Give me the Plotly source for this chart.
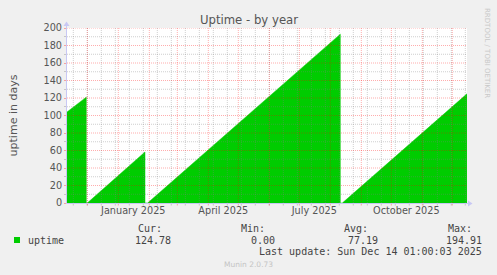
import plotly.graph_objects as go
import pandas as pd

# ---- data ----
dates = ["2024-11-10 17:00", "2024-11-30 00:00", "2024-11-30 00:00", "2024-12-01 00:00",
         "2025-01-27 16:00", "2025-01-27 16:00", "2025-01-30 08:00",
         "2025-08-11 00:00", "2025-08-11 00:00", "2025-08-13 00:00",
         "2025-12-15 16:00"]
uptime = [104.0, 121.0, 0.0, 0.0,
          58.3, 0.0, 0.0,
          193.0, 0.0, 0.0,
          124.8]
x_range = ["2024-11-10 16:48", "2025-12-15 16:48"]
label_dates = ["2025-01-16", "2025-04-16", "2025-07-16", "2025-10-16"]
label_text = ["January 2025", "April 2025", "July 2025", "October 2025"]
y_ticks = list(range(0, 201, 20))
y_minor = list(range(10, 200, 20))
month_lines = list(pd.date_range("2024-12-01", "2025-12-01", freq="MS"))
week_lines = list(pd.date_range("2024-11-17", "2025-12-14", freq="14D"))
stats_head = ["Cur:", "Min:", "Avg:", "Max:"]
stats_vals = ["124.78", "0.00", "77.19", "194.91"]

W, H = 497, 275
ML, MR, MT, MB = 67, 30, 28, 72
PW, PH = W - ML - MR, H - MT - MB

def px(x):
    return (x - ML) / PW

def py(y):
    return (H - MB - y) / PH

GREEN = "#00CC00"
MGRID = "rgba(255,0,0,0.32)"
GRID = "rgba(128,128,128,0.38)"
AXIS = "#C8C8F4"
TXT = "#555555"
MONO = "DejaVu Sans Mono"
SANS = "DejaVu Sans"

fig = go.Figure()
fig.add_trace(go.Scatter(x=dates, y=uptime, mode="lines", fill="tozeroy",
                         fillcolor=GREEN, line=dict(color=GREEN, width=0.5),
                         hoverinfo="skip", showlegend=False))

fig.update_layout(
    width=W, height=H,
    margin=dict(l=ML, r=MR, t=MT, b=MB, autoexpand=False),
    paper_bgcolor="#F0F0F0", plot_bgcolor="#FFFFFF",
    font=dict(family=SANS, size=10, color=TXT),
    title=dict(text="Uptime - by year", x=249 / W, xref="container", xanchor="center",
               y=1 - 19.5 / H, yref="container", yanchor="middle",
               font=dict(family=SANS, size=11.7, color=TXT)),
    xaxis=dict(type="date", range=x_range, tickvals=label_dates, ticktext=label_text,
               ticks="", showgrid=False, showline=False, zeroline=False, automargin=False,
               tickfont=dict(family=SANS, size=9.7, color=TXT)),
    yaxis=dict(range=[0, 200], tickvals=y_ticks, ticks="outside", ticklen=2,
               tickcolor=MGRID, showgrid=False, showline=False, zeroline=False,
               automargin=False,
               tickfont=dict(family=SANS, size=9.7, color=TXT),
               title=dict(text="uptime in days", font=dict(family=SANS, size=11, color=TXT),
                          standoff=23),
               minor=dict(tickvals=y_minor, showgrid=False,
                          ticks="outside", ticklen=2, tickcolor=GRID)),
)

DOT = "1px,1px"
shapes = []
# grid lines drawn above the area, like rrdtool
for d in week_lines:
    shapes.append(dict(type="line", xref="x", yref="paper", x0=d, x1=d, y0=0, y1=1,
                       layer="above", line=dict(color=GRID, width=1, dash=DOT)))
    shapes.append(dict(type="line", xref="x", yref="paper", x0=d, x1=d, y0=0, y1=py(205.5),
                       layer="above", line=dict(color=GRID, width=1)))
for v in y_minor:
    shapes.append(dict(type="line", xref="paper", yref="y", x0=0, x1=1, y0=v, y1=v,
                       layer="above", line=dict(color=GRID, width=1, dash=DOT)))
for d in month_lines:
    shapes.append(dict(type="line", xref="x", yref="paper", x0=d, x1=d, y0=0, y1=1,
                       layer="above", line=dict(color=MGRID, width=1, dash=DOT)))
    shapes.append(dict(type="line", xref="x", yref="paper", x0=d, x1=d, y0=0, y1=py(205.5),
                       layer="above", line=dict(color=MGRID, width=1)))
for v in y_ticks[1:]:
    shapes.append(dict(type="line", xref="paper", yref="y", x0=0, x1=1, y0=v, y1=v,
                       layer="above", line=dict(color=MGRID, width=1, dash=DOT)))

# axis lines with arrows
shapes.append(dict(type="line", xref="paper", yref="paper", x0=px(66.5), x1=px(470),
                   y0=py(203.5), y1=py(203.5), line=dict(color=AXIS, width=1)))
shapes.append(dict(type="line", xref="paper", yref="paper", x0=px(66.5), x1=px(66.5),
                   y0=py(203.5), y1=py(24), line=dict(color=AXIS, width=1)))
shapes.append(dict(type="path", xref="paper", yref="paper",
                   path=f"M {px(468)} {py(200.5)} L {px(472.5)} {py(203.5)} L {px(468)} {py(206.5)} Z",
                   fillcolor=AXIS, line=dict(width=0)))
shapes.append(dict(type="path", xref="paper", yref="paper",
                   path=f"M {px(63.5)} {py(26)} L {px(66.5)} {py(21.5)} L {px(69.5)} {py(26)} Z",
                   fillcolor=AXIS, line=dict(width=0)))
# legend swatch
shapes.append(dict(type="rect", xref="paper", yref="paper", x0=px(14), x1=px(20),
                   y0=py(243), y1=py(237), fillcolor=GREEN, line=dict(width=0)))
fig.update_layout(shapes=shapes)

ann = []
def text(t, x, y, xanchor="left", size=10, color="#444444", family=MONO, angle=0):
    ann.append(dict(text=t, x=px(x), y=py(y), xref="paper", yref="paper",
                    xanchor=xanchor, yanchor="middle", showarrow=False,
                    textangle=angle, borderpad=0,
                    font=dict(family=family, size=size, color=color)))

text("uptime", 26.5, 240)
head_x = [136.5, 239.5, 343, 446.5]
val_right = [171.5, 276, 378.5, 483]
for h, v, hx, vr in zip(stats_head, stats_vals, head_x, val_right):
    text(h, hx, 228)
    text(v, vr, 240, xanchor="right")
text("Last update: Sun Dec 14 01:00:03 2025", 483, 251.5, xanchor="right")
text("Munin 2.0.73", 248, 264.5, xanchor="center", size=7.5, color="#C4C4C4", family=SANS)
text("RRDTOOL / TOBI OETIKER", 487, 53, xanchor="center", size=7, color="#C8C8C8",
     family=SANS, angle=90)
fig.update_layout(annotations=ann)

fig.write_html("out.html")
